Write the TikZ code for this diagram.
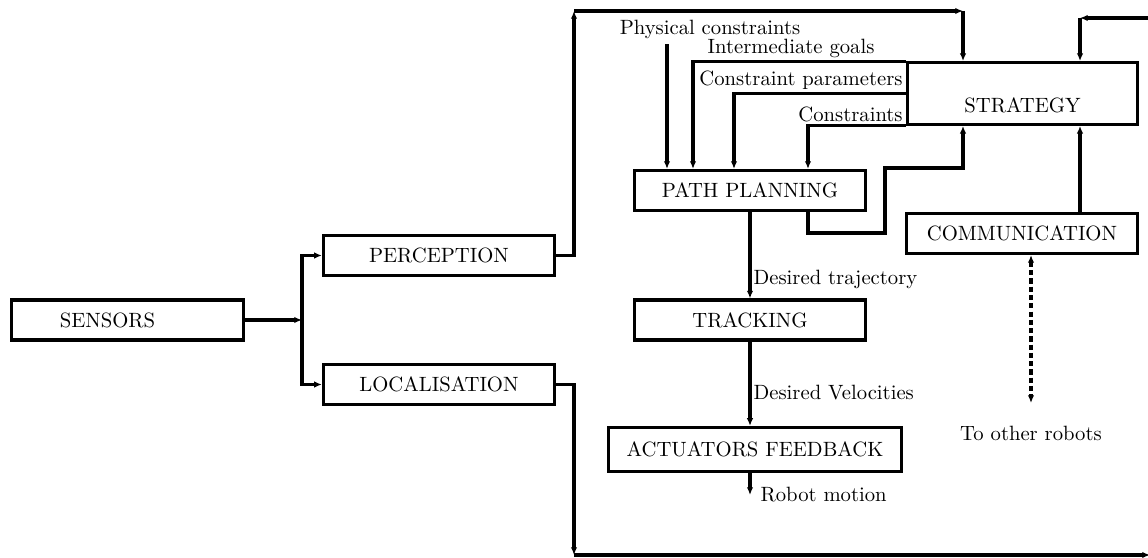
\documentclass[tikz,border=0pt]{standalone}
\usetikzlibrary{arrows.meta,positioning,calc}
\tikzset{>={Latex[length=1.3mm,width=1.1mm]},
 block/.style={draw,minimum width=3.93cm,minimum height=0.68cm,align=center},
 lbl/.style={inner sep=1pt},
 link/.style={dash pattern=on 2.5pt off 1.5pt}}

\begin{document}
\begin{tikzpicture}[x=0.017cm,y=-0.017cm,line width=1.5pt]
\useasboundingbox (0,0) rectangle (1148,558);
\clip (0,0) rectangle (1148,558);
% boxes
\node[block] (sens) at (127.5,320) {SENSORS\hspace{0.68cm}};
\node[block] (perc) at (439,255.5) {PERCEPTION};
\node[block] (loc) at (439,384.5) {LOCALISATION};
\node[block] (pp) at (750,190.5) {PATH PLANNING};
\node[block] (trk) at (750,320) {TRACKING};
\node[block,minimum width=4.98cm,minimum height=0.75cm] (act) at (755,449.5) {ACTUATORS FEEDBACK};
\node[block,minimum width=3.9cm,minimum height=1.05cm,
 label={[yshift=-0.2cm]center:STRATEGY}] (strat) at (1022.5,93.5) {};
\node[block] (comm) at (1022,233.5) {COMMUNICATION};
% sensors to perception/localisation
\coordinate (jn) at (302,320);
\draw[->] (sens) -- (jn);
\draw[->] (jn) |- (perc);
\draw[->] (jn) |- (loc);
% strategy inputs
\coordinate (sL) at ($(strat.south)+(-59.5,0)$);
\coordinate (sR) at ($(strat.south)+(57.5,0)$);
\coordinate (c1) at (574,11);
\coordinate (c2) at (c1 -| sL);
\draw[->] (perc) -| (c1);
\draw[->] (c1) -- (c2);
\draw[->] (c2) -- (c2 |- strat.north);
\coordinate (c3) at (574,555);
\coordinate (e1) at (1150,555);
\coordinate (e2) at (1160,18);
\coordinate (c4) at (e2 -| sR);
\draw[->] (loc) -| (c3);
\draw[->] (c3) -- (e1);
\draw[->] (e2) -- (c4);
\draw[->] (c4) -- (c4 |- strat.north);
% path planning inputs
\coordinate (i1) at ($(pp.north)+(-83,0)$);
\coordinate (i2) at ($(pp.north)+(-57,0)$);
\coordinate (i3) at ($(pp.north)+(-16,0)$);
\coordinate (i4) at ($(pp.north)+(58,0)$);
\node[lbl,inner ysep=2pt] (phys) at (710,29.5) {Physical constraints};
\draw[->] (phys.south -| i1) -- (i1);
\draw[->] (strat.north west) -| node[lbl,pos=0.27,above]{Intermediate goals} (i2);
\draw[->] (strat.west) -| node[lbl,pos=0,above left]{Constraint parameters} (i3);
\draw[->] (strat.south west) -| node[lbl,pos=0,above left]{Constraints} (i4);
% feedback to strategy
\coordinate (l1) at (885,233);
\coordinate (l2) at (885,168);
\draw[->] (i4 |- pp.south) |- (l1) -- (l2) -| (sL);
\draw[->] (comm.north -| sR) -- (sR);
% execution chain
\draw[->] (pp) -- node[lbl,pos=0.78,right]{Desired trajectory} (trk);
\draw[->] (trk) -- node[lbl,pos=0.6,right]{Desired Velocities} (trk |- act.north);
\node[lbl,anchor=west] (rm) at (757,495) {Robot motion};
\draw[->] (trk |- act.south) -- (trk |- rm.west);
% other robots
\coordinate (rob) at (1031,403);
\node[lbl,below=0.34cm of rob] (oth) {To other robots};
\draw[<->,link] (comm.south -| rob) -- (rob);
\end{tikzpicture}
\end{document}
